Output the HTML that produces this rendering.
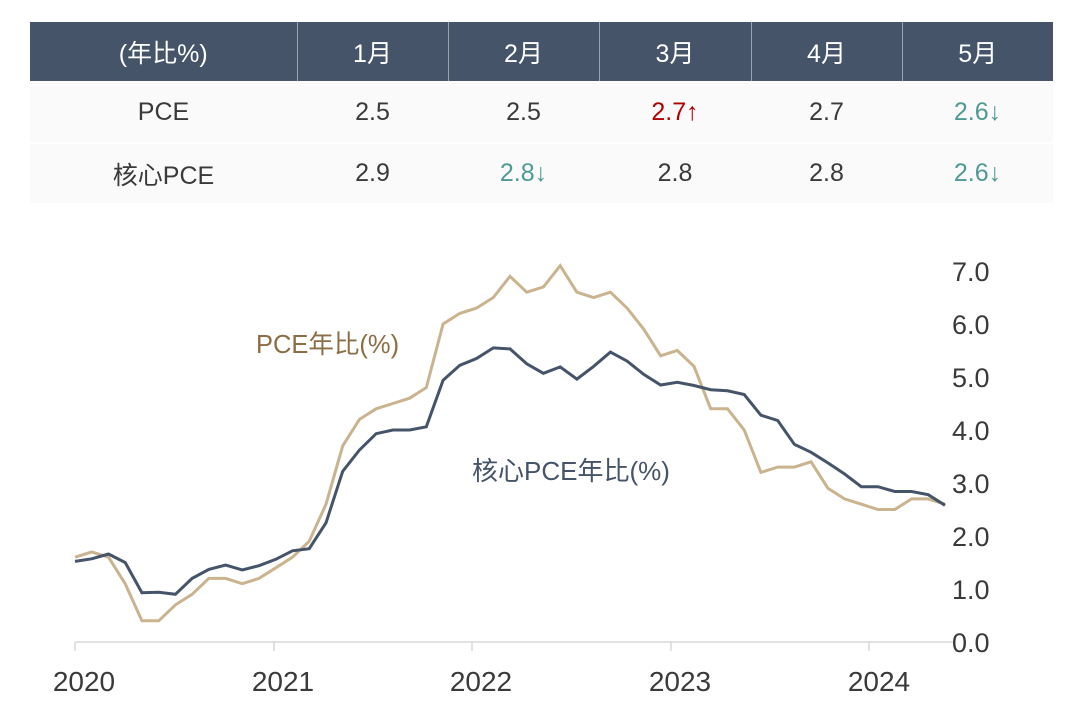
<!DOCTYPE html>
<html><head><meta charset="utf-8"><style>
body{margin:0;width:1077px;height:718px;background:#fff;font-family:"Liberation Sans","Noto Sans CJK TC",sans-serif;overflow:hidden}
table{position:absolute;left:30px;top:22px;border-collapse:collapse;width:1023px}
td{text-align:center;font-size:25px;color:#3a3a3a;padding:0}
tr.h td{background:#455469;color:#fff;height:59px;border-left:1px solid #9aa3b0}
tr.h td:first-child{border-left:none}
tr.r td{background:#fafafa;height:59px;border-top:2px solid #fff}
.up{color:#b00000}.dn{color:#4f9a94}
</style></head><body>
<table>
<colgroup><col style="width:267px"><col style="width:151px"><col style="width:151px"><col style="width:152px"><col style="width:151px"><col style="width:151px"></colgroup>
<tr class="h"><td>(年比%)</td><td>1月</td><td>2月</td><td>3月</td><td>4月</td><td>5月</td></tr>
<tr class="r"><td>PCE</td><td>2.5</td><td>2.5</td><td class="up">2.7↑</td><td>2.7</td><td class="dn">2.6↓</td></tr>
<tr class="r"><td>核心PCE</td><td>2.9</td><td class="dn">2.8↓</td><td>2.8</td><td>2.8</td><td class="dn">2.6↓</td></tr>
</table>
<svg width="1077" height="718" style="position:absolute;left:0;top:0" xmlns="http://www.w3.org/2000/svg" font-family="Liberation Sans, Noto Sans CJK TC, sans-serif">
<line x1="75" y1="642" x2="953" y2="642" stroke="#d8d8d8" stroke-width="1.5"/>
<g stroke="#d8d8d8" stroke-width="1.5"><line x1="75" y1="642" x2="75" y2="651"/><line x1="274" y1="642" x2="274" y2="651"/><line x1="472" y1="642" x2="472" y2="651"/><line x1="671" y1="642" x2="671" y2="651"/><line x1="869" y1="642" x2="869" y2="651"/></g>
<g font-size="28" fill="#3a3a3a" text-anchor="middle"><text x="84" y="691">2020</text><text x="283" y="691">2021</text><text x="481" y="691">2022</text><text x="680" y="691">2023</text><text x="879" y="691">2024</text></g>
<g font-size="27" fill="#3a3a3a" text-anchor="start">
<text x="952" y="652">0.0</text><text x="952" y="599">1.0</text><text x="952" y="546">2.0</text><text x="952" y="493">3.0</text><text x="952" y="440">4.0</text><text x="952" y="387">5.0</text><text x="952" y="334">6.0</text><text x="952" y="281">7.0</text></g>
<text x="256" y="353" font-size="25.5" fill="#8c6d45">PCE年比(%)</text>
<text x="472" y="480" font-size="26" fill="#455469">核心PCE年比(%)</text>
<polyline id="p1" fill="none" stroke="#c9b48f" stroke-width="3"/>
<polyline id="p2" fill="none" stroke="#455469" stroke-width="3"/>
</svg>
<script>
var a=[1.6,1.7,1.6,1.1,0.4,0.4,0.7,0.9,1.2,1.2,1.1,1.2,1.4,1.6,1.9,2.6,3.7,4.2,4.4,4.5,4.6,4.8,6.0,6.2,6.3,6.5,6.9,6.6,6.7,7.1,6.6,6.5,6.6,6.3,5.9,5.4,5.5,5.2,4.4,4.4,4.0,3.2,3.3,3.3,3.4,2.9,2.7,2.6,2.5,2.5,2.7,2.7,2.6];
var b=[1.52,1.57,1.66,1.5,0.93,0.94,0.9,1.2,1.37,1.45,1.36,1.44,1.56,1.72,1.76,2.25,3.22,3.62,3.93,4.0,4.0,4.06,4.94,5.22,5.35,5.55,5.53,5.25,5.07,5.19,4.96,5.2,5.47,5.3,5.05,4.85,4.9,4.84,4.76,4.74,4.67,4.28,4.18,3.73,3.58,3.38,3.17,2.93,2.93,2.84,2.84,2.78,2.58];
function pts(d){return d.map(function(v,i){return (75+i*16.73).toFixed(1)+","+(642-v*53).toFixed(1)}).join(" ")}
document.getElementById("p1").setAttribute("points",pts(a));
document.getElementById("p2").setAttribute("points",pts(b));
</script>
</body></html>
